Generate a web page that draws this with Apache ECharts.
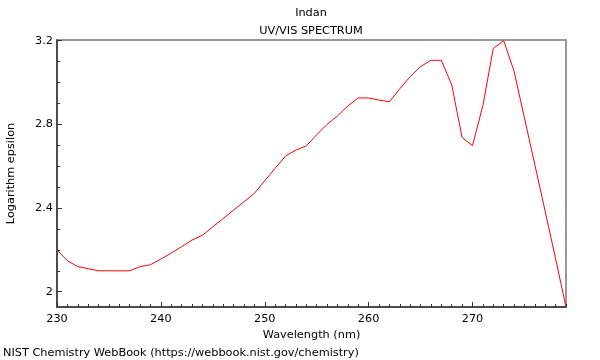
<!DOCTYPE html>
<html>
<head>
<meta charset="utf-8">
<script src="https://cdn.jsdelivr.net/npm/echarts@6/dist/echarts.min.js"></script>
<style>
html,body{margin:0;padding:0;background:#fff;}
#chart{width:600px;height:360px;}
</style>
</head>
<body>
<div id="chart"></div>
<script>
const wavelengths = [230,231,232,233,234,235,236,237,238,239,240,241,242,243,244,245,246,247,248,249,250,251,252,253,254,255,256,257,258,259,260,261,262,263,264,265,266,267,268,269,270,271,272,273,274,275,276,277,278,279];
const logEpsilon = [2.20,2.148,2.12,2.11,2.10,2.10,2.10,2.10,2.12,2.129,2.156,2.185,2.215,2.247,2.27,2.31,2.35,2.39,2.43,2.47,2.53,2.59,2.649,2.677,2.697,2.75,2.80,2.84,2.888,2.926,2.926,2.916,2.908,2.97,3.028,3.076,3.106,3.106,2.988,2.737,2.698,2.89,3.163,3.2,3.054,2.83,2.607,2.383,2.157,1.927];
const xMajorTicks = [230,240,250,260,270];
const yMajorTicks = [2,2.4,2.8,3.2];
const xRange = [230,279];
const yRange = [1.927,3.203];

const xMinorTicks = [];
for (let v = xRange[0]; v <= xRange[1]; v++) if (xMajorTicks.indexOf(v) < 0) xMinorTicks.push(v);
const yMinorTicks = [];
for (let i = 20; i <= 32; i++) { const v = i / 10; if (yMajorTicks.indexOf(v) < 0) yMinorTicks.push(v); }

const font = 'DejaVu Sans';
const fs = 11.3;
const txt = {fontFamily:font,fontSize:fs,fontWeight:'normal',color:'#000'};
const chart = echarts.init(document.getElementById('chart'));
chart.setOption({
  animation:false,
  textStyle:{fontFamily:font},
  title:[
    {text:'Indan', left:311, top:8, padding:0, textAlign:'center', textStyle:txt},
    {text:'UV/VIS SPECTRUM', left:311, top:26, padding:0, textAlign:'center', textStyle:txt},
    {text:'NIST Chemistry WebBook (https://webbook.nist.gov/chemistry)', left:3, top:348, padding:0, textStyle:txt}
  ],
  grid:{show:true, borderColor:'#999', borderWidth:2, backgroundColor:'#fff',
        left:57, right:34, top:40, bottom:53, outerBoundsMode:'none', containLabel:false},
  xAxis:[
    {type:'value', min:xRange[0], max:xRange[1], position:'bottom',
     name:'Wavelength (nm)', nameLocation:'middle', nameGap:20,
     nameTextStyle:txt,
     axisLine:{show:true,onZero:false,lineStyle:{color:'#333',width:1.5}},
     axisTick:{show:true,inside:true,length:5,customValues:xMajorTicks,lineStyle:{color:'#333'}},
     axisLabel:Object.assign({customValues:xMajorTicks,margin:7},txt),
     splitLine:{show:false}},
    {type:'value', min:xRange[0], max:xRange[1], position:'bottom',
     axisLine:{show:false},
     axisTick:{show:true,inside:true,length:3,customValues:xMinorTicks,lineStyle:{color:'#333'}},
     axisLabel:{show:false}, splitLine:{show:false}}
  ],
  yAxis:[
    {type:'value', min:yRange[0], max:yRange[1], position:'left',
     name:'Logarithm epsilon', nameLocation:'middle', nameGap:40, nameRotate:90,
     nameTextStyle:txt,
     axisLine:{show:true,onZero:false,lineStyle:{color:'#333',width:1.5}},
     axisTick:{show:true,inside:true,length:5,customValues:yMajorTicks,lineStyle:{color:'#333'}},
     axisLabel:Object.assign({customValues:yMajorTicks,margin:4,padding:[3,0,0,0]},txt),
     splitLine:{show:false}},
    {type:'value', min:yRange[0], max:yRange[1], position:'left',
     axisLine:{show:false},
     axisTick:{show:true,inside:true,length:3,customValues:yMinorTicks,lineStyle:{color:'#333'}},
     axisLabel:{show:false}, splitLine:{show:false}}
  ],
  series:[{
    type:'line', xAxisIndex:0, yAxisIndex:0,
    data:wavelengths.map((w,i)=>[w,logEpsilon[i]]),
    showSymbol:false, symbol:'none',
    lineStyle:{color:'#ff0000',width:1},
    clip:true
  }]
});
</script>
</body>
</html>
